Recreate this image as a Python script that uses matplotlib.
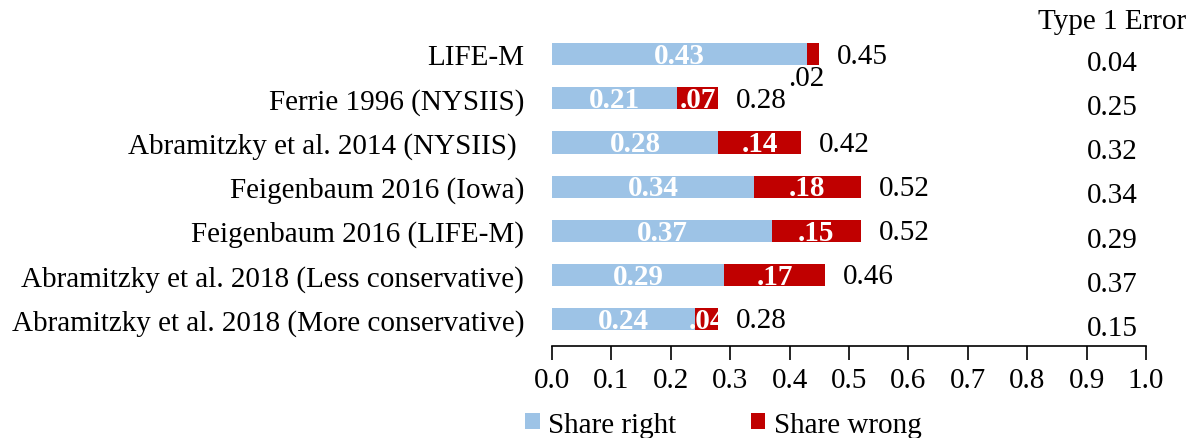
import numpy as np
import matplotlib.pyplot as plt

plt.rcParams['font.family'] = ['Liberation Serif', 'DejaVu Serif']

categories = ["LIFE-M", "Ferrie 1996 (NYSIIS)", "Abramitzky et al. 2014 (NYSIIS) ",
              "Feigenbaum 2016 (Iowa)", "Feigenbaum 2016 (LIFE-M)",
              "Abramitzky et al. 2018 (Less conservative)",
              "Abramitzky et al. 2018 (More conservative)"]
share_right = [0.43, 0.21, 0.28, 0.34, 0.37, 0.29, 0.24]
share_wrong = [0.02, 0.07, 0.14, 0.18, 0.15, 0.17, 0.04]
totals = [0.45, 0.28, 0.42, 0.52, 0.52, 0.46, 0.28]
type1_error = [0.04, 0.25, 0.32, 0.34, 0.29, 0.37, 0.15]

blue = '#9DC3E6'
red = '#C00000'

fig = plt.figure(figsize=(11.99, 4.39), dpi=100)
ax = fig.add_axes([0.4604, 0.2096, 0.4954, 0.722])

y = np.arange(len(categories))
right = np.array(share_right)
wrong = np.array(share_wrong)
ax.barh(y, right, height=0.5, color=blue, label='Share right')
ax.barh(y, wrong, left=right, height=0.5, color=red, label='Share wrong')

fs = 21
col_x = 1.0 - 34 / 594
for i in range(len(categories)):
    ax.text(right[i] / 2, y[i] + 0.03, f"{share_right[i]:.2f}", color='white',
            fontweight='bold', ha='center', va='center', fontsize=fs)
    wl = f"{share_wrong[i]:.2f}"[1:]
    if i == 0:
        ax.text(right[i] + wrong[i] / 2 - 0.012, y[i] + 0.55, wl, color='black',
                ha='center', va='center', fontsize=fs)
    else:
        ax.text(right[i] + wrong[i] / 2, y[i] + 0.03, wl, color='white',
                fontweight='bold', ha='center', va='center', fontsize=fs)
    ax.text(right[i] + wrong[i] + 0.03, y[i] + 0.03, f"{totals[i]:.2f}",
            ha='left', va='center', fontsize=fs)
    ax.text(col_x, y[i] + 0.2, f"{type1_error[i]:.2f}",
            ha='center', va='center', fontsize=fs, clip_on=False)

ax.text(col_x, -0.75, "Type 1 Error",
        ha='center', va='center', fontsize=fs, clip_on=False)

ax.set_xlim(0, 1.0)
ax.set_ylim(6.61, -0.57)
ax.set_yticks(y)
ax.set_yticklabels(categories, fontsize=fs)
ax.tick_params(axis='y', length=0, pad=20)
ax.set_xticks(np.arange(0, 1.01, 0.1))
ax.set_xticklabels([f"{v:.1f}" for v in np.arange(0, 1.01, 0.1)], fontsize=fs)
ax.tick_params(axis='x', direction='out', length=10, width=1.2, pad=5)
for s in ['top', 'right', 'left']:
    ax.spines[s].set_visible(False)
ax.spines['bottom'].set_linewidth(1.2)

ax.legend(loc='upper left', bbox_to_anchor=(-0.065, -0.17), ncol=2, frameon=False,
          fontsize=fs, handlelength=0.5, handleheight=0.5, handletextpad=0.3,
          columnspacing=2.55, borderaxespad=0)

fig.savefig('out.png', dpi=100, facecolor='white')
